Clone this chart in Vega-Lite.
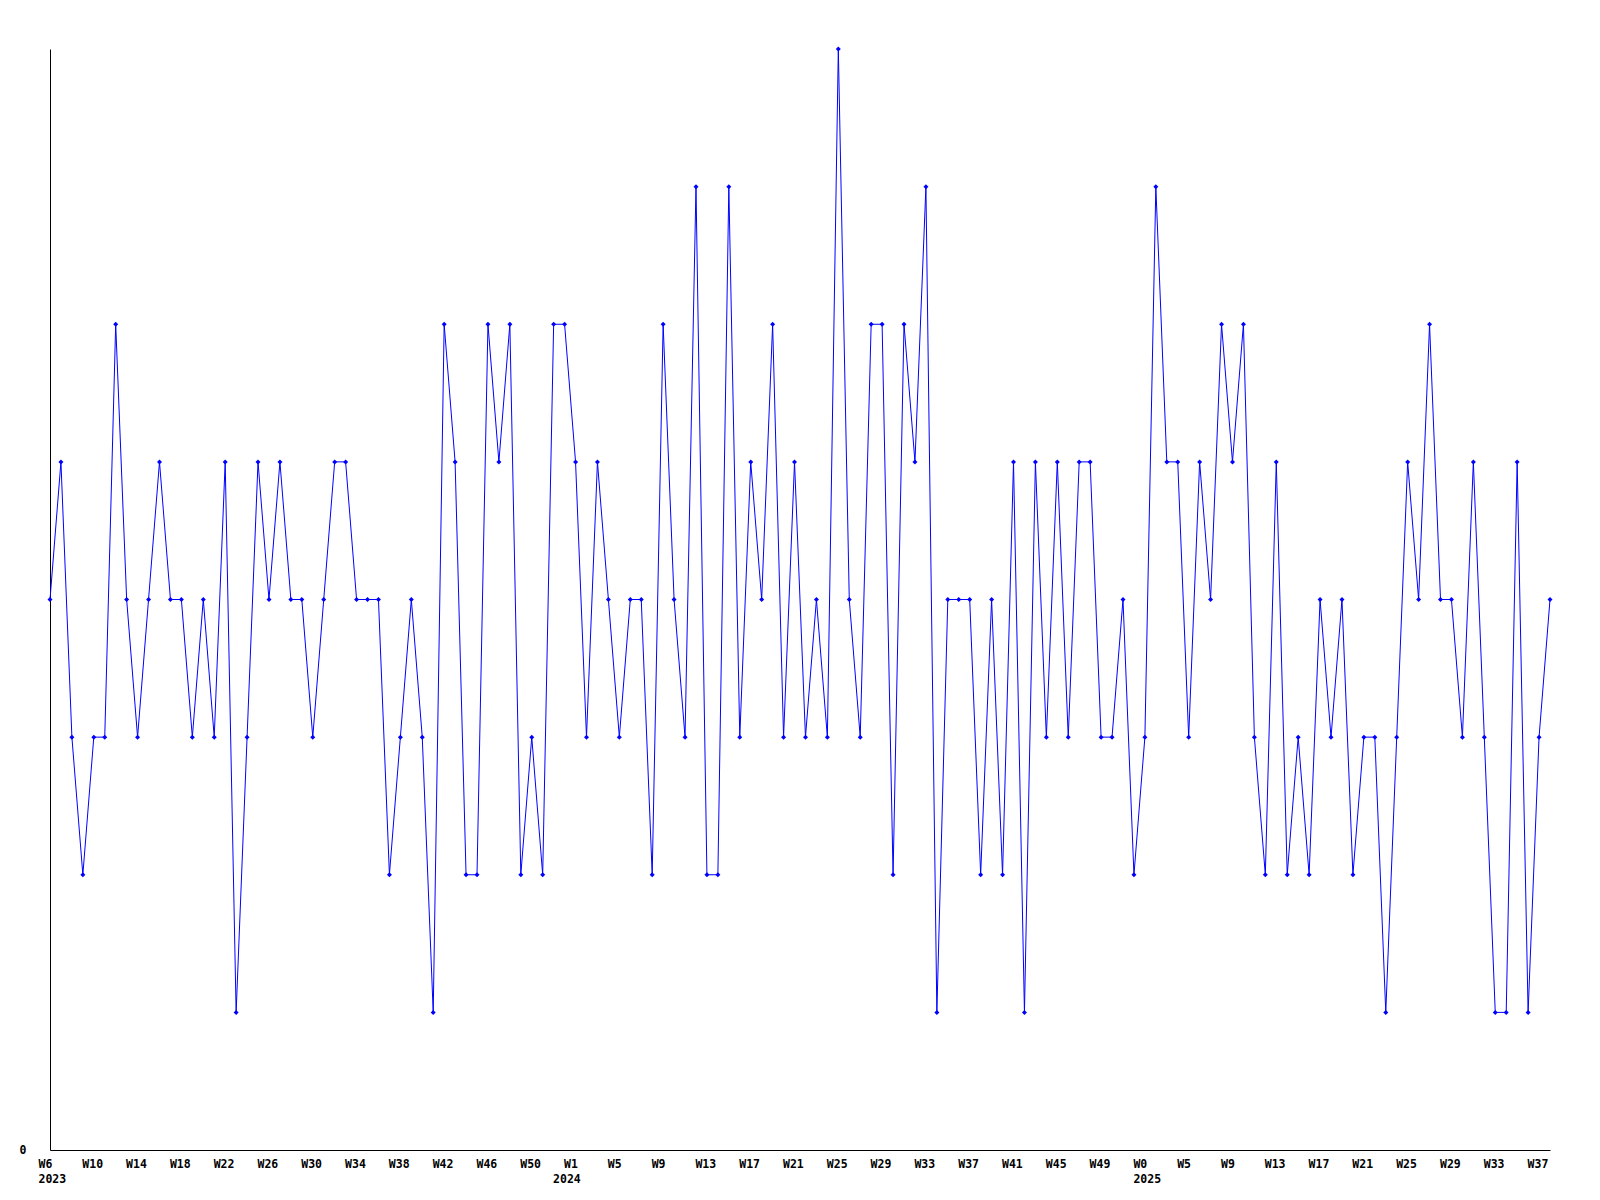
{
  "$schema": "https://vega.github.io/schema/vega-lite/v6.json",
  "autosize": "none",
  "width": 1500,
  "height": 1101,
  "padding": {"left": 50, "top": 49, "right": 50, "bottom": 50},
  "background": "white",
  "config": {
    "view": {"stroke": null},
    "axis": {"labelFont": "DejaVu Sans Mono", "labelFontWeight": "bold", "labelFontSize": 11.5, "labelColor": "black", "domainColor": "black", "domainWidth": 1, "grid": false, "ticks": false, "tickSize": 0, "title": null}
  },
  "data": {"values": [
    {"week": "2023-02-06", "value": 4}, {"week": "2023-02-13", "value": 5}, {"week": "2023-02-20", "value": 3}, {"week": "2023-02-27", "value": 2},
    {"week": "2023-03-06", "value": 3}, {"week": "2023-03-13", "value": 3}, {"week": "2023-03-20", "value": 6}, {"week": "2023-03-27", "value": 4},
    {"week": "2023-04-03", "value": 3}, {"week": "2023-04-10", "value": 4}, {"week": "2023-04-17", "value": 5}, {"week": "2023-04-24", "value": 4},
    {"week": "2023-05-01", "value": 4}, {"week": "2023-05-08", "value": 3}, {"week": "2023-05-15", "value": 4}, {"week": "2023-05-22", "value": 3}, {"week": "2023-05-29", "value": 5},
    {"week": "2023-06-05", "value": 1}, {"week": "2023-06-12", "value": 3}, {"week": "2023-06-19", "value": 5}, {"week": "2023-06-26", "value": 4},
    {"week": "2023-07-03", "value": 5}, {"week": "2023-07-10", "value": 4}, {"week": "2023-07-17", "value": 4}, {"week": "2023-07-24", "value": 3}, {"week": "2023-07-31", "value": 4},
    {"week": "2023-08-07", "value": 5}, {"week": "2023-08-14", "value": 5}, {"week": "2023-08-21", "value": 4}, {"week": "2023-08-28", "value": 4},
    {"week": "2023-09-04", "value": 4}, {"week": "2023-09-11", "value": 2}, {"week": "2023-09-18", "value": 3}, {"week": "2023-09-25", "value": 4},
    {"week": "2023-10-02", "value": 3}, {"week": "2023-10-09", "value": 1}, {"week": "2023-10-16", "value": 6}, {"week": "2023-10-23", "value": 5}, {"week": "2023-10-30", "value": 2},
    {"week": "2023-11-06", "value": 2}, {"week": "2023-11-13", "value": 6}, {"week": "2023-11-20", "value": 5}, {"week": "2023-11-27", "value": 6},
    {"week": "2023-12-04", "value": 2}, {"week": "2023-12-11", "value": 3}, {"week": "2023-12-18", "value": 2}, {"week": "2023-12-25", "value": 6},
    {"week": "2024-01-01", "value": 6}, {"week": "2024-01-08", "value": 5}, {"week": "2024-01-15", "value": 3}, {"week": "2024-01-22", "value": 5}, {"week": "2024-01-29", "value": 4},
    {"week": "2024-02-05", "value": 3}, {"week": "2024-02-12", "value": 4}, {"week": "2024-02-19", "value": 4}, {"week": "2024-02-26", "value": 2},
    {"week": "2024-03-04", "value": 6}, {"week": "2024-03-11", "value": 4}, {"week": "2024-03-18", "value": 3}, {"week": "2024-03-25", "value": 7},
    {"week": "2024-04-01", "value": 2}, {"week": "2024-04-08", "value": 2}, {"week": "2024-04-15", "value": 7}, {"week": "2024-04-22", "value": 3}, {"week": "2024-04-29", "value": 5},
    {"week": "2024-05-06", "value": 4}, {"week": "2024-05-13", "value": 6}, {"week": "2024-05-20", "value": 3}, {"week": "2024-05-27", "value": 5},
    {"week": "2024-06-03", "value": 3}, {"week": "2024-06-10", "value": 4}, {"week": "2024-06-17", "value": 3}, {"week": "2024-06-24", "value": 8},
    {"week": "2024-07-01", "value": 4}, {"week": "2024-07-08", "value": 3}, {"week": "2024-07-15", "value": 6}, {"week": "2024-07-22", "value": 6}, {"week": "2024-07-29", "value": 2},
    {"week": "2024-08-05", "value": 6}, {"week": "2024-08-12", "value": 5}, {"week": "2024-08-19", "value": 7}, {"week": "2024-08-26", "value": 1},
    {"week": "2024-09-02", "value": 4}, {"week": "2024-09-09", "value": 4}, {"week": "2024-09-16", "value": 4}, {"week": "2024-09-23", "value": 2}, {"week": "2024-09-30", "value": 4},
    {"week": "2024-10-07", "value": 2}, {"week": "2024-10-14", "value": 5}, {"week": "2024-10-21", "value": 1}, {"week": "2024-10-28", "value": 5},
    {"week": "2024-11-04", "value": 3}, {"week": "2024-11-11", "value": 5}, {"week": "2024-11-18", "value": 3}, {"week": "2024-11-25", "value": 5},
    {"week": "2024-12-02", "value": 5}, {"week": "2024-12-09", "value": 3}, {"week": "2024-12-16", "value": 3}, {"week": "2024-12-23", "value": 4}, {"week": "2024-12-30", "value": 2},
    {"week": "2025-01-06", "value": 3}, {"week": "2025-01-13", "value": 7}, {"week": "2025-01-20", "value": 5}, {"week": "2025-01-27", "value": 5},
    {"week": "2025-02-03", "value": 3}, {"week": "2025-02-10", "value": 5}, {"week": "2025-02-17", "value": 4}, {"week": "2025-02-24", "value": 6},
    {"week": "2025-03-03", "value": 5}, {"week": "2025-03-10", "value": 6}, {"week": "2025-03-17", "value": 3}, {"week": "2025-03-24", "value": 2}, {"week": "2025-03-31", "value": 5},
    {"week": "2025-04-07", "value": 2}, {"week": "2025-04-14", "value": 3}, {"week": "2025-04-21", "value": 2}, {"week": "2025-04-28", "value": 4},
    {"week": "2025-05-05", "value": 3}, {"week": "2025-05-12", "value": 4}, {"week": "2025-05-19", "value": 2}, {"week": "2025-05-26", "value": 3},
    {"week": "2025-06-02", "value": 3}, {"week": "2025-06-09", "value": 1}, {"week": "2025-06-16", "value": 3}, {"week": "2025-06-23", "value": 5}, {"week": "2025-06-30", "value": 4},
    {"week": "2025-07-07", "value": 6}, {"week": "2025-07-14", "value": 4}, {"week": "2025-07-21", "value": 4}, {"week": "2025-07-28", "value": 3},
    {"week": "2025-08-04", "value": 5}, {"week": "2025-08-11", "value": 3}, {"week": "2025-08-18", "value": 1}, {"week": "2025-08-25", "value": 1},
    {"week": "2025-09-01", "value": 5}, {"week": "2025-09-08", "value": 1}, {"week": "2025-09-15", "value": 3}, {"week": "2025-09-22", "value": 4}
  ]},
  "resolve": {"axis": {"x": "independent"}},
  "layer": [
    {
      "mark": {"type": "line", "color": "#0000ff", "strokeWidth": 1},
      "encoding": {
        "x": {
          "field": "week", "type": "temporal",
          "scale": {"nice": false, "padding": 0},
          "axis": {
            "orient": "bottom",
            "values": [
              {"utc": true, "year": 2023, "month": 2, "date": 6}, {"utc": true, "year": 2023, "month": 3, "date": 6}, {"utc": true, "year": 2023, "month": 4, "date": 3}, {"utc": true, "year": 2023, "month": 5, "date": 1},
              {"utc": true, "year": 2023, "month": 5, "date": 29}, {"utc": true, "year": 2023, "month": 6, "date": 26}, {"utc": true, "year": 2023, "month": 7, "date": 24}, {"utc": true, "year": 2023, "month": 8, "date": 21},
              {"utc": true, "year": 2023, "month": 9, "date": 18}, {"utc": true, "year": 2023, "month": 10, "date": 16}, {"utc": true, "year": 2023, "month": 11, "date": 13}, {"utc": true, "year": 2023, "month": 12, "date": 11},
              {"utc": true, "year": 2024, "month": 1, "date": 8}, {"utc": true, "year": 2024, "month": 2, "date": 5}, {"utc": true, "year": 2024, "month": 3, "date": 4}, {"utc": true, "year": 2024, "month": 4, "date": 1},
              {"utc": true, "year": 2024, "month": 4, "date": 29}, {"utc": true, "year": 2024, "month": 5, "date": 27}, {"utc": true, "year": 2024, "month": 6, "date": 24}, {"utc": true, "year": 2024, "month": 7, "date": 22},
              {"utc": true, "year": 2024, "month": 8, "date": 19}, {"utc": true, "year": 2024, "month": 9, "date": 16}, {"utc": true, "year": 2024, "month": 10, "date": 14}, {"utc": true, "year": 2024, "month": 11, "date": 11},
              {"utc": true, "year": 2024, "month": 12, "date": 9}, {"utc": true, "year": 2025, "month": 1, "date": 6}, {"utc": true, "year": 2025, "month": 2, "date": 3}, {"utc": true, "year": 2025, "month": 3, "date": 3},
              {"utc": true, "year": 2025, "month": 3, "date": 31}, {"utc": true, "year": 2025, "month": 4, "date": 28}, {"utc": true, "year": 2025, "month": 5, "date": 26}, {"utc": true, "year": 2025, "month": 6, "date": 23},
              {"utc": true, "year": 2025, "month": 7, "date": 21}, {"utc": true, "year": 2025, "month": 8, "date": 18}, {"utc": true, "year": 2025, "month": 9, "date": 15}
            ],
            "labelExpr": "['W6','W10','W14','W18','W22','W26','W30','W34','W38','W42','W46','W50','W1','W5','W9','W13','W17','W21','W25','W29','W33','W37','W41','W45','W49','W0','W5','W9','W13','W17','W21','W25','W29','W33','W37'][round((datum.value - utc(2023,1,6))/2419200000)]",
            "labelAlign": "left",
            "labelBaseline": "top",
            "labelOffset": -12,
            "labelPadding": 8,
            "labelOverlap": false,
            "labelFlush": false,
            "labelBound": false
          }
        },
        "y": {
          "field": "value", "type": "quantitative",
          "scale": {"domain": [0, 8], "nice": false, "zero": true},
          "axis": {"values": [0], "format": "d", "labelPadding": 24, "labelFlush": false, "labelBound": false}
        }
      }
    },
    {
      "mark": {"type": "point", "shape": "diamond", "size": 25, "filled": true, "color": "#0000ff", "opacity": 1},
      "encoding": {
        "x": {
          "field": "week", "type": "temporal",
          "axis": {
            "orient": "bottom",
            "domain": false,
            "values": [
              {"utc": true, "year": 2023, "month": 2, "date": 6},
              {"utc": true, "year": 2024, "month": 1, "date": 1},
              {"utc": true, "year": 2025, "month": 1, "date": 6}
            ],
            "labelExpr": "utcFormat(datum.value, '%Y')",
            "labelAlign": "left",
            "labelBaseline": "top",
            "labelOffset": -12,
            "labelPadding": 23,
            "labelOverlap": false,
            "labelFlush": false,
            "labelBound": false
          }
        },
        "y": {
          "field": "value", "type": "quantitative",
          "axis": {"values": [0], "format": "d", "labelPadding": 24, "labelFlush": false, "labelBound": false}
        }
      }
    }
  ]
}
